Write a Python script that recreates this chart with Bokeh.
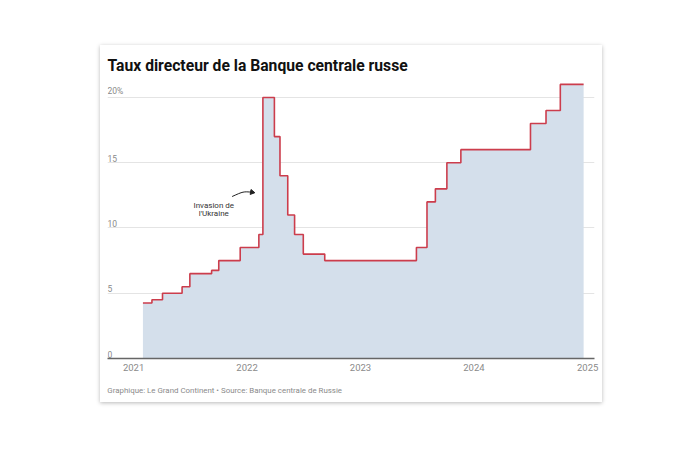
import numpy as np
import pandas as pd
from bokeh.plotting import figure
from bokeh.models import (Range1d, FixedTicker, DatetimeTickFormatter, DatetimeAxis,
                          ColumnDataSource)
from bokeh.core.properties import value
from bokeh.embed import file_html
from bokeh.resources import INLINE

# ---------------- data ----------------
step_dates = ["2021-01-31", "2021-03-01", "2021-04-04", "2021-06-06", "2021-07-01",
              "2021-09-09", "2021-10-02", "2021-12-10", "2022-02-08", "2022-02-21",
              "2022-03-30", "2022-04-17", "2022-05-12", "2022-06-03", "2022-07-01",
              "2022-09-08", "2023-06-30", "2023-08-03", "2023-08-30", "2023-10-06",
              "2023-11-20", "2024-07-01", "2024-08-20", "2024-10-05"]
rates = [4.25, 4.5, 5.0, 5.5, 6.5,
         6.75, 7.5, 8.5, 9.5, 20.0,
         17.0, 14.0, 11.0, 9.5, 8.0,
         7.5, 8.5, 12.0, 13.0, 15.0,
         16.0, 18.0, 19.0, 21.0]
end_date = "2024-12-19"

y_tick_values = [0, 5, 10, 15, 20]
y_tick_labels = ["0", "5", "10", "15", "20%"]
x_tick_years = [2021, 2022, 2023, 2024, 2025]

title_text = "Taux directeur de la Banque centrale russe"
source_text = "Graphique: Le Grand Continent \u2022 Source: Banque centrale de Russie"
annotation_text = "Invasion de\nl'Ukraine"
annotation_date = "2021-09-16"
annotation_y = 11.40
arrow_start = ("2021-11-14", 12.41)
arrow_ctrl = ("2021-12-20", 12.80)
arrow_end = ("2022-01-17", 12.74)

# ---------------- build ----------------
xs = pd.to_datetime(step_dates + [end_date])
ys = rates + [rates[-1]]
src = ColumnDataSource(dict(x=xs, y=ys, y0=[0] * len(ys)))

x_start = pd.Timestamp("2020-10-09")
x_end = pd.Timestamp("2025-01-23")

p = figure(width=502, height=357, x_axis_type="datetime", y_axis_location=None,
           output_backend="svg", toolbar_location=None,
           x_range=Range1d(x_start, x_end), y_range=Range1d(0, 21.3),
           min_border_left=7, min_border_right=8, min_border_top=35, min_border_bottom=44,
           background_fill_color="white", border_fill_color="white",
           outline_line_color=None)
p.margin = (45, 0, 0, 100)
p.styles = {"box-shadow": "0 1px 4px rgba(0,0,0,0.28)"}

p.title.text = title_text
p.title.text_font = "Roboto"
p.title.text_font_style = "bold"
p.title.text_font_size = "15.7px"
p.title.text_color = "#111111"
p.title.align = "left"
p.title.standoff = 12

p.varea_step(x="x", y1="y0", y2="y", step_mode="after", source=src,
             fill_color="#d4dfeb")
p.step(x="x", y="y", mode="after", source=src, line_color="#cc3d4c",
       line_width=1.6)

# grid
p.xgrid.visible = False
p.ygrid.ticker = FixedTicker(ticks=[v for v in y_tick_values if v > 0])
p.ygrid.grid_line_color = "#e4e4e4"
p.ygrid.grid_line_width = 1

# y labels above gridlines
ysrc = ColumnDataSource(dict(x=[x_start] * len(y_tick_values), y=y_tick_values,
                             t=y_tick_labels))
p.text(x="x", y="y", text="t", source=ysrc, text_font=value("Roboto"),
       text_font_size="8.5px", text_color="#8a8a8a", text_baseline="bottom",
       text_align="left", y_offset=-1)

# x axis
ticks_ms = [pd.Timestamp(f"{y}-01-01").value // 10**6 for y in x_tick_years]
p.xaxis.ticker = FixedTicker(ticks=ticks_ms)
p.xaxis.formatter = DatetimeTickFormatter(years="%Y", months="%Y", days="%Y")
p.xaxis.major_tick_line_color = None
p.xaxis.minor_tick_line_color = None
p.xaxis.axis_line_color = "#666666"
p.xaxis.axis_line_width = 1.5
p.xaxis.major_label_text_font = "Roboto"
p.xaxis.major_label_text_font_size = "9.5px"
p.xaxis.major_label_text_color = "#8a8a8a"
p.xaxis.major_label_standoff = 5
p.xaxis.major_tick_out = 0

# footer as a label-only second axis below the first (label centred on its tick)
footer_ms = pd.Timestamp("2021-10-21").value // 10**6
footer_axis = DatetimeAxis(ticker=FixedTicker(ticks=[footer_ms]),
                           major_label_overrides={footer_ms: source_text},
                           axis_line_color=None, major_tick_line_color=None,
                           minor_tick_line_color=None, major_tick_out=0,
                           major_label_standoff=12,
                           major_label_text_font="Roboto",
                           major_label_text_font_size="7.9px",
                           major_label_text_color="#8a8a8a")
p.add_layout(footer_axis, "below")

# annotation
p.text(x=[pd.Timestamp(annotation_date)], y=[annotation_y], text=[annotation_text],
       text_font=value("Roboto"), text_font_size="8px", text_color="#333333",
       text_align="center", text_baseline="middle", text_line_height=0.95)
p.bezier(x0=[pd.Timestamp(arrow_start[0])], y0=[arrow_start[1]],
         x1=[pd.Timestamp(arrow_end[0])], y1=[arrow_end[1]],
         cx0=[pd.Timestamp(arrow_ctrl[0])], cy0=[arrow_ctrl[1]],
         cx1=[pd.Timestamp(arrow_ctrl[0])], cy1=[arrow_ctrl[1]],
         line_color="#222222", line_width=1)
p.scatter(x=[pd.Timestamp(arrow_end[0])], y=[arrow_end[1]], marker="triangle",
          size=5, angle=np.radians(-100), fill_color="#222222", line_color="#222222")

open("out.html", "w").write(file_html(p, INLINE))
